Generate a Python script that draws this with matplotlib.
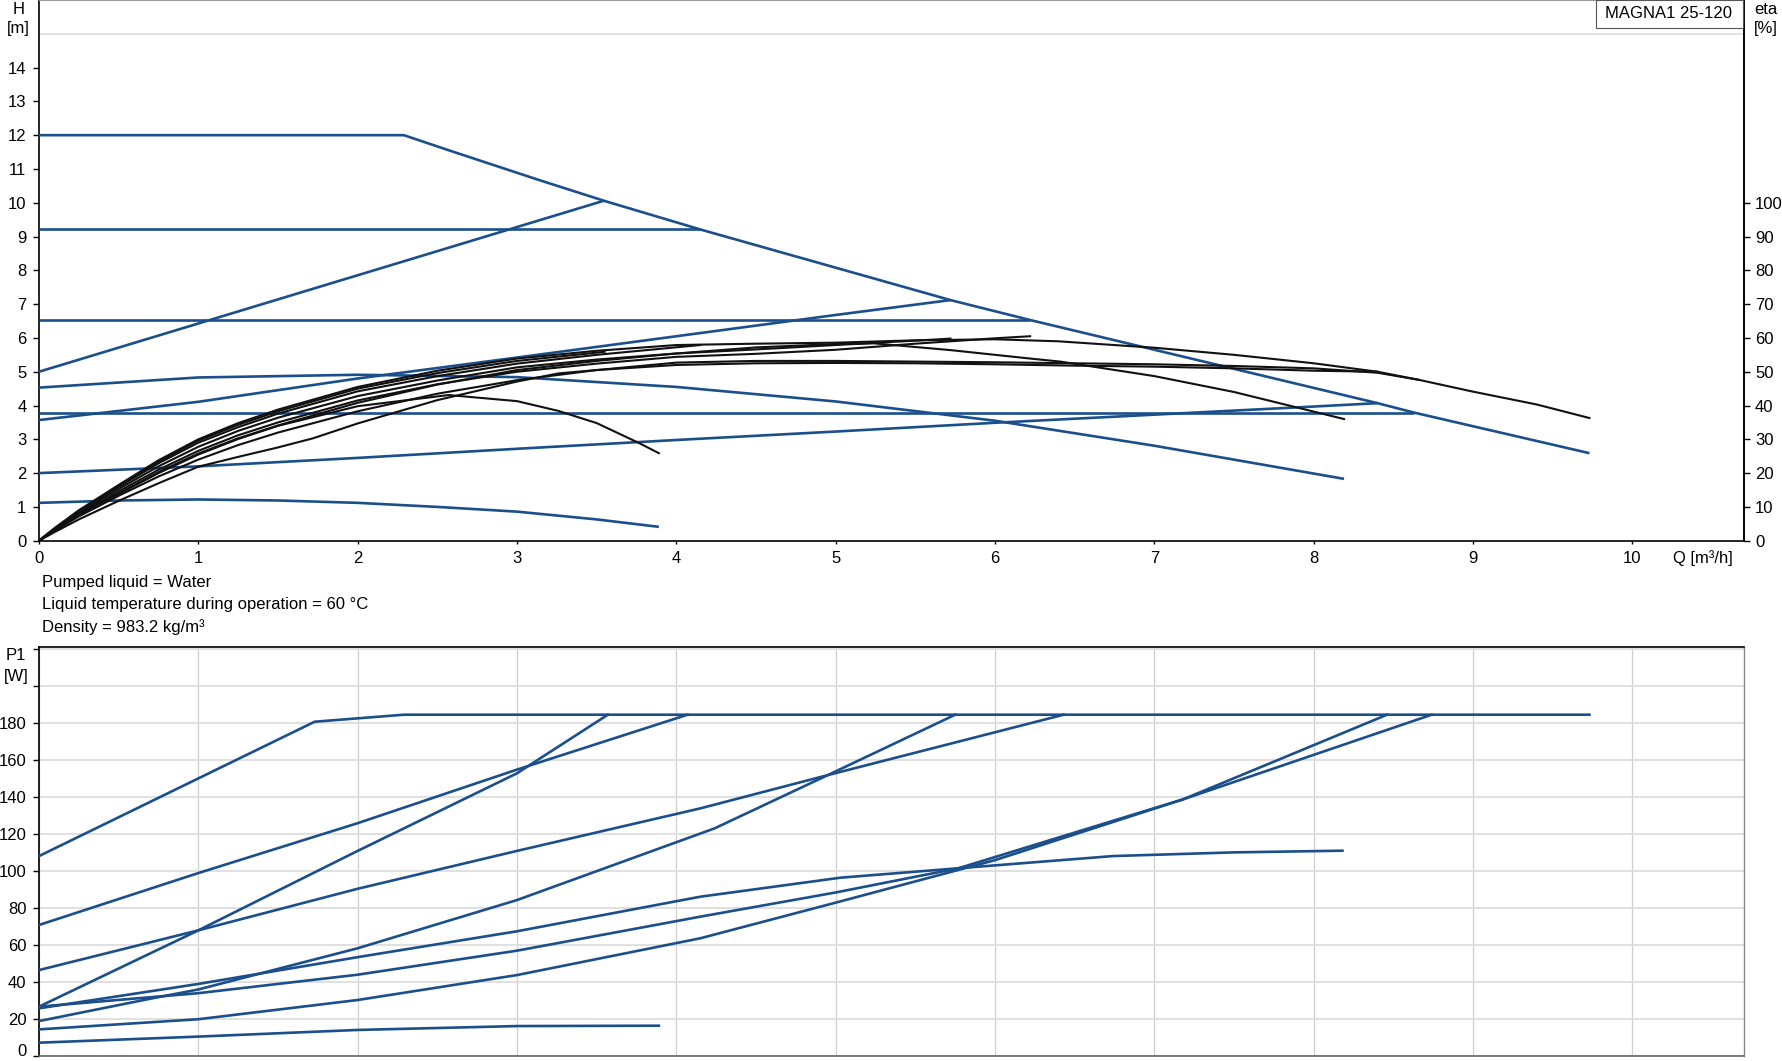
import matplotlib
matplotlib.use('Agg')
import matplotlib.pyplot as plt
from matplotlib.patches import Rectangle
from matplotlib.transforms import ScaledTranslation

plt.rcParams['font.family'] = ['Liberation Sans', 'DejaVu Sans']

# ---------------- data : H-Q curves (m) ----------------
q_max = [0, 2.29, 2.58, 3.14, 3.545, 4.15, 5.72, 6.22, 8.40, 8.63, 9.73]
h_max = [12, 12, 11.54, 10.67, 10.06, 9.21, 7.12, 6.53, 4.07, 3.79, 2.59]
q_pp_high = [0, 3.545]
h_pp_high = [5.0, 10.06]
q_cp_high = [0, 4.15]
h_cp_high = [9.21, 9.21]
q_pp_mid = [0, 1, 2, 3, 4, 5, 5.72]
h_pp_mid = [3.57, 4.11, 4.80, 5.42, 6.05, 6.68, 7.12]
q_cp_mid = [0, 6.22]
h_cp_mid = [6.53, 6.53]
q_speed = [0, 1, 2, 3, 4, 5, 6, 7, 8.19]
h_speed = [4.53, 4.83, 4.91, 4.84, 4.55, 4.12, 3.55, 2.81, 1.83]
q_pp_low = [0, 1, 2, 3, 4, 5, 6, 7, 8, 8.40]
h_pp_low = [2.0, 2.2, 2.45, 2.72, 2.98, 3.23, 3.49, 3.73, 3.97, 4.07]
q_cp_low = [0, 8.63]
h_cp_low = [3.79, 3.79]
q_min = [0, 0.5, 1, 1.5, 2, 2.5, 3, 3.5, 3.89]
h_min = [1.12, 1.19, 1.22, 1.19, 1.12, 1.0, 0.86, 0.63, 0.41]
head_curves = [(q_max, h_max), (q_pp_high, h_pp_high), (q_cp_high, h_cp_high),
               (q_pp_mid, h_pp_mid), (q_cp_mid, h_cp_mid), (q_speed, h_speed),
               (q_pp_low, h_pp_low), (q_cp_low, h_cp_low), (q_min, h_min)]

# ---------------- data : efficiency curves (%) ----------------
qe_max = [0, 0.1, 0.25, 0.5, 0.75, 1, 1.25, 1.5, 2, 2.5, 3, 3.5, 4, 4.5, 5, 5.5, 6, 6.4, 7, 7.5, 8, 8.4, 8.66, 9, 9.4, 9.73]
eta_max = [0, 3.8, 9.0, 16.5, 23.8, 30.0, 34.8, 38.8, 45.5, 50.3, 53.9, 56.2, 57.9, 58.3, 58.6, 59.3, 59.6, 59.0, 57.1, 55.0, 52.5, 50.0, 47.6, 44.1, 40.3, 36.3]
qe_pp_high = [0, 0.1, 0.25, 0.5, 0.75, 1, 1.25, 1.5, 2, 2.5, 3, 3.55]
eta_pp_high = [0, 3.7, 8.9, 16.2, 23.4, 29.6, 34.3, 38.3, 45.0, 49.6, 53.2, 55.9]
qe_cp_high = [0, 0.1, 0.25, 0.5, 0.75, 1, 1.25, 1.5, 2, 2.5, 3, 3.5, 4.15]
eta_cp_high = [0, 3.6, 8.7, 15.9, 22.9, 29.0, 33.6, 37.6, 44.2, 48.7, 52.4, 55.0, 57.9]
qe_pp_mid = [0, 0.1, 0.25, 0.5, 0.75, 1, 1.25, 1.5, 2, 2.5, 3, 3.5, 4, 4.5, 5, 5.5, 5.72]
eta_pp_mid = [0, 3.5, 8.4, 15.3, 22.0, 27.8, 32.5, 36.4, 42.8, 47.4, 51.3, 53.6, 55.4, 56.6, 57.9, 59.2, 59.8]
qe_cp_mid = [0, 0.1, 0.25, 0.5, 0.75, 1, 1.25, 1.5, 2, 2.5, 3, 3.5, 4, 4.5, 5, 5.5, 6, 6.22]
eta_cp_mid = [0, 3.3, 8.0, 14.6, 21.0, 26.6, 31.2, 35.0, 41.5, 46.3, 50.0, 52.4, 54.4, 55.3, 56.5, 58.3, 59.9, 60.5]
qe_speed = [0, 0.1, 0.25, 0.5, 0.75, 1, 1.25, 1.5, 2, 2.5, 3, 3.5, 4, 4.5, 5, 5.24, 5.72, 6.24, 6.41, 7, 7.5, 8, 8.19]
eta_speed = [0, 3.2, 7.7, 14.0, 20.3, 25.8, 30.3, 34.1, 40.8, 46.2, 50.5, 53.2, 55.4, 57.2, 58.2, 58.4, 56.4, 53.8, 53.0, 48.7, 44.0, 38.2, 36.0]
qe_pp_low = [0, 0.1, 0.25, 0.5, 0.75, 1, 1.25, 1.5, 1.72, 2, 2.5, 3, 3.26, 3.5, 4, 4.5, 5, 5.5, 6, 6.5, 7, 7.5, 8, 8.4]
eta_pp_low = [0, 2.6, 6.3, 11.8, 17.0, 21.9, 24.8, 27.6, 30.3, 34.7, 41.6, 47.1, 49.5, 50.5, 52.0, 52.5, 52.6, 52.5, 52.2, 51.8, 51.5, 51.0, 50.3, 50.0]
qe_cp_low = [0, 0.1, 0.25, 0.5, 0.75, 1, 1.25, 1.5, 2, 2.5, 3, 3.5, 4, 4.5, 5, 5.5, 6, 6.5, 7, 7.5, 8, 8.4, 8.66]
eta_cp_low = [0, 3.0, 7.2, 13.3, 19.0, 24.0, 28.3, 32.0, 38.3, 43.5, 47.5, 50.5, 52.7, 53.2, 53.2, 53.0, 52.8, 52.5, 52.2, 51.7, 51.0, 49.7, 47.6]
qe_min = [0, 0.1, 0.25, 0.5, 0.75, 1, 1.25, 1.5, 2, 2.57, 3, 3.26, 3.5, 3.77, 3.89]
eta_min = [0, 3.1, 7.5, 13.8, 20.0, 25.5, 30.1, 34.0, 39.8, 43.1, 41.3, 38.4, 34.8, 28.8, 25.9]
eta_curves = [(qe_max, eta_max), (qe_pp_high, eta_pp_high), (qe_cp_high, eta_cp_high),
              (qe_pp_mid, eta_pp_mid), (qe_cp_mid, eta_cp_mid), (qe_speed, eta_speed),
              (qe_pp_low, eta_pp_low), (qe_cp_low, eta_cp_low), (qe_min, eta_min)]

# ---------------- data : power curves (W) ----------------
qp_max = [0, 1.73, 2.29, 9.73]
p_max = [108.2, 180.9, 184.7, 184.7]
qp_pp_high = [0, 1, 2, 3, 3.57]
p_pp_high = [26.7, 68, 111, 153, 184.7]
qp_cp_high = [0, 1, 2, 3, 4.07]
p_cp_high = [70.9, 99, 126, 155, 184.7]
qp_cp_mid = [0, 1, 2, 3, 4.15, 4.95, 6.43]
p_cp_mid = [46.5, 68, 90.5, 111, 134, 152, 184.7]
qp_pp_mid = [0, 0.71, 1, 2, 3, 4.24, 4.95, 5.75]
p_pp_mid = [18.9, 31.2, 36, 58.3, 84.4, 123.2, 152, 184.7]
qp_speed = [0, 1, 2, 3, 4.15, 5.03, 5.77, 6.74, 7.5, 8.18]
p_speed = [25.8, 39, 53.5, 67.5, 86.2, 96.5, 101.6, 108.2, 110.2, 111.1]
qp_cp_low = [0, 1, 2, 3, 4.15, 5, 5.77, 7.18, 8.74]
p_cp_low = [26.7, 34, 44, 57, 75.4, 88.5, 101.6, 138.9, 184.7]
qp_pp_low = [0, 1, 2, 3, 4.15, 5, 6, 7.18, 8.46]
p_pp_low = [14.4, 19.9, 30.3, 43.8, 63.7, 83, 106, 138.9, 184.7]
qp_min = [0, 1, 2, 3, 3.89]
p_min = [7.2, 10.5, 14.1, 16.2, 16.4]
power_curves = [(qp_max, p_max), (qp_pp_high, p_pp_high), (qp_cp_high, p_cp_high),
                (qp_cp_mid, p_cp_mid), (qp_pp_mid, p_pp_mid), (qp_speed, p_speed),
                (qp_cp_low, p_cp_low), (qp_pp_low, p_pp_low), (qp_min, p_min)]

q_ticks = list(range(0, 11))
h_ticks = list(range(0, 15))
eta_ticks = list(range(0, 101, 10))
p_ticks = list(range(0, 181, 20))

notes = ["Pumped liquid = Water",
         "Liquid temperature during operation = 60 \u00b0C",
         "Density = 983.2 kg/m\u00b3"]
title_box = "MAGNA1 25-120"

# ---------------- styling ----------------
BLUE = '#1a4f8c'
BLACK = '#111111'
GRID_H = '#dddddd'
GRID_V = '#cfcfcf'
FS = 12
W, H = 1783, 1061

fig = plt.figure(figsize=(W / 100, H / 100), dpi=100)

# top axes (head)
ax = fig.add_axes([39 / W, 1 - 540.7 / H, 1705 / W, 540.7 / H])
ax.set_xlim(0, 10.70)
ax.set_ylim(0, 16)
ax.set_xticks(q_ticks)
ax.set_xticklabels([str(t) for t in q_ticks])
ax.set_yticks(h_ticks)
ax.set_yticklabels([str(t) for t in h_ticks])
ax.set_yticks(range(0, 17), minor=True)
ax.set_xticks(range(0, 11), minor=True)
ax.grid(which='minor', axis='y', color=GRID_H, lw=1.3)
ax.grid(which='minor', axis='x', color=GRID_V, lw=0.9)
ax.tick_params(which='minor', length=0)
ax.tick_params(axis='y', which='major', length=4.5, width=1, pad=4.5, labelsize=FS)
ax.tick_params(axis='x', which='major', length=2.5, width=1, pad=5, labelsize=FS)
ax.set_axisbelow(True)
for s in ['left', 'bottom', 'right']:
    ax.spines[s].set_color('black')
    ax.spines[s].set_linewidth(1.2)
ax.spines['top'].set_color('#999999')
ax.spines['top'].set_linewidth(0.8)

for qq, hh in head_curves:
    ax.plot(qq, hh, color=BLUE, lw=1.9, solid_capstyle='butt', zorder=3)

ax2 = ax.twinx()
ax2.set_ylim(0, 160)
ax2.set_yticks(eta_ticks)
ax2.set_yticklabels([str(t) for t in eta_ticks])
ax2.tick_params(axis='y', length=4.5, width=1, pad=3.5, labelsize=FS)
ax2.spines['right'].set_color('black')
ax2.spines['right'].set_linewidth(1.2)
for s in ['left', 'top', 'bottom']:
    ax2.spines[s].set_visible(False)
for qq, ee in eta_curves:
    ax2.plot(qq, ee, color=BLACK, lw=1.5, zorder=2)

# axis labels / notes
fig.text(18.5 / W, 1 - 9.5 / H, 'H', ha='center', va='center', fontsize=FS)
fig.text(18.5 / W, 1 - 29 / H, '[m]', ha='center', va='center', fontsize=FS)
fig.text(1766 / W, 1 - 9.5 / H, 'eta', ha='center', va='center', fontsize=FS)
fig.text(1766 / W, 1 - 29 / H, '[%]', ha='center', va='center', fontsize=FS)
fig.text(1703 / W, 1 - 558 / H, 'Q [m\u00b3/h]', ha='center', va='center', fontsize=FS)
for i, t in enumerate(notes):
    fig.text(42 / W, 1 - (583 + i * 21.8) / H, t, ha='left', va='center', fontsize=FS)

# title box
fig.patches.append(Rectangle((1596 / W, 1 - 28 / H), (1743 - 1596) / W, 28 / H,
                             transform=fig.transFigure, facecolor='white',
                             edgecolor='#555555', lw=0.8, zorder=5))
fig.text(1669 / W, 1 - 13.5 / H, title_box, ha='center', va='center', fontsize=FS, zorder=6)

# bottom axes (power)
axp = fig.add_axes([39 / W, 1 - 1056 / H, 1705 / W, (1056 - 646.7) / H])
axp.set_xlim(0, 10.70)
axp.set_ylim(0, 221.5)
axp.set_yticks(list(range(0, 221, 20)))
axp.set_yticklabels([str(t) if t in p_ticks else '' for t in range(0, 221, 20)])
axp.set_xticks(range(0, 11))
axp.set_xticklabels([])
axp.tick_params(axis='x', length=0)
axp.tick_params(axis='y', length=4.5, width=1, pad=4.5, labelsize=FS)
axp.grid(axis='y', color=GRID_H, lw=1.3)
axp.grid(axis='x', color=GRID_V, lw=0.9)
axp.set_axisbelow(True)
for s in ['left', 'top']:
    axp.spines[s].set_color('black')
    axp.spines[s].set_linewidth(1.2)
axp.spines['bottom'].set_color('#666666')
axp.spines['bottom'].set_linewidth(1.2)
axp.spines['right'].set_color('#888888')
axp.spines['right'].set_linewidth(1.0)
for qq, pp in power_curves:
    axp.plot(qq, pp, color=BLUE, lw=1.9, zorder=3)

# keep the bottom "0" label inside the picture
fig.canvas.draw()
lbl0 = axp.get_yticklabels()[0]
lbl0.set_transform(lbl0.get_transform() + ScaledTranslation(0, 4 / 72, fig.dpi_scale_trans))

fig.text(16 / W, 1 - 656 / H, 'P1', ha='center', va='center', fontsize=FS)
fig.text(16 / W, 1 - 676 / H, '[W]', ha='center', va='center', fontsize=FS)

fig.savefig('out.png', dpi=100)
